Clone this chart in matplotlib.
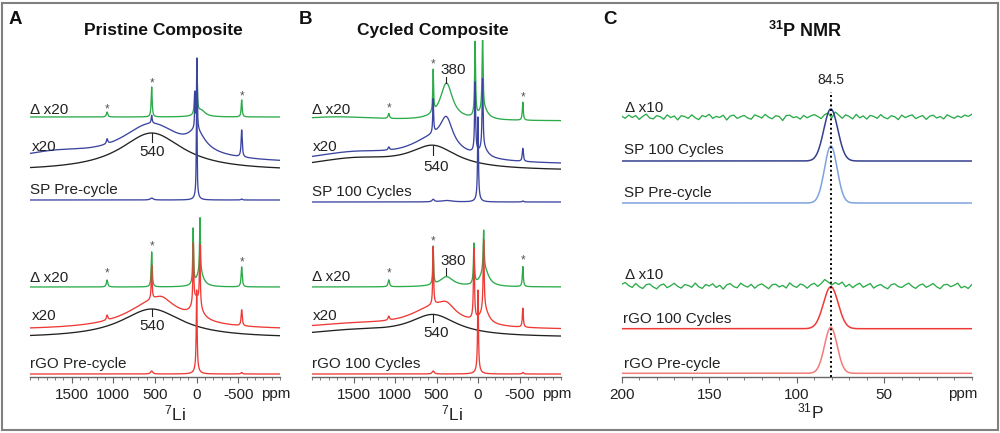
import numpy as np
import matplotlib.pyplot as plt
from matplotlib.patches import Rectangle
from matplotlib.ticker import MultipleLocator

plt.rcParams['font.family'] = ['Liberation Sans', 'DejaVu Sans']
plt.rcParams['mathtext.fontset'] = 'custom'
plt.rcParams['mathtext.rm'] = 'Liberation Sans'
plt.rcParams['mathtext.it'] = 'Liberation Sans:italic'
plt.rcParams['mathtext.bf'] = 'Liberation Sans:bold'

# 7Li spectra: (shift ppm, intensity, half width ppm)
# pristine composite, SP
A_SP_DIFF = [(1075, 5, 10), (540, 30, 7), (25, 20, 7), (-5, 38, 6), (-50, 7, 60), (-540, 17, 7)]
A_SP_X20 = [(1700, 9, 600), (540, 38, 450), (0, 18, 120), (1075, 5, 10), (540, 8, 7),
            (20, 35, 5), (-3, 70, 5), (-540, 27, 8)]
A_SP_FIT = [(540, 38, 460)]
A_SP_PRE = [(540, 2, 20), (0, 4, 30), (0, 100, 5), (-540, 1, 10)]
# pristine composite, rGO
A_RGO_DIFF = [(1075, 7, 10), (540, 35, 7), (42, 55, 6), (-40, 55, 6), (-40, 14, 50), (-540, 20, 8)]
A_RGO_X20 = [(500, 28, 420), (420, 6, 120), (0, 20, 60), (1075, 5, 10), (540, 34, 6),
             (40, 60, 6), (-38, 60, 6), (-540, 16, 8)]
A_RGO_FIT = [(540, 29, 450)]
A_RGO_PRE = [(540, 3, 15), (0, 5, 30), (0, 79, 6), (-540, 1.5, 10)]
# cycled composite, SP
B_SP_DIFF = [(1700, 4, 600), (1075, 5, 10), (540, 42, 6), (380, 37, 90), (35, 74, 7),
             (-55, 74, 7), (-70, 10, 60), (-540, 18, 7)]
B_SP_X20 = [(1500, 11, 700), (540, 22, 350), (1075, 3, 10), (540, 34, 6), (380, 27, 90),
            (35, 70, 7), (-55, 70, 7), (-70, 8, 60), (-540, 13, 8)]
B_SP_FIT = [(1500, 11, 700), (540, 22, 350)]
B_SP_CYC = [(540, 2.5, 15), (380, 1.5, 80), (0, 4, 30), (0, 81, 6), (-540, 1, 10)]
# cycled composite, rGO
B_RGO_DIFF = [(1075, 7, 10), (540, 38, 6), (380, 10, 100), (49, 40, 7), (-68, 40, 7),
              (-80, 17, 60), (-540, 20, 7)]
B_RGO_X20 = [(1500, 5, 700), (540, 20, 350), (380, 10, 120), (1075, 4, 10), (540, 58, 6),
             (49, 70, 7), (-68, 70, 7), (-80, 14, 60), (-540, 19, 7)]
B_RGO_FIT = [(1500, 6, 700), (540, 21, 350)]
B_RGO_CYC = [(540, 3, 15), (0, 5, 30), (0, 79, 6), (-540, 1.5, 10)]

# 31P spectra: (shift ppm, height, sigma ppm)
P_SHIFT = 80.5
P_LABEL = '84.5'
C_SP_CYC = [(P_SHIFT, 52, 4.0)]
C_SP_PRE = [(P_SHIFT, 57, 3.6)]
C_RGO_CYC = [(P_SHIFT, 42, 4.2)]
C_RGO_PRE = [(P_SHIFT, 46, 3.6)]
# difference traces x10, one value every 2 ppm from 200 to 0 ppm
C_SP_DIFF = [0.8, -1.3, 1.9, -0.5, 1.4, -2.4, 0.6, 2.9, -1.0, -1.9,
             1.4, 0.3, -2.2, 2.1, -0.6, 1.0, -2.9, 1.3, 0.5, -1.4,
             2.2, -0.8, -2.6, 1.4, 0.2, 2.7, -1.3, 0.6, -0.5, 1.8,
             -3.0, 1.0, 1.9, -1.4, 0.3, 1.6, -1.0, -2.2, 2.1, 0.8,
             -1.1, 2.6, -0.3, -1.8, 1.3, 0.5, -3.5, 1.4, 1.8, -0.6,
             0.3, -2.1, 1.6, -0.8, 1.1, 2.4, 0.6, -1.6, 2.5, 4.0,
             -1.0, 5.0, 2.0, -1.3, 2.2, 0.5, -1.9, 2.6, -0.8, 1.1,
             -2.1, 1.6, 0.6, -1.4, 2.4, -0.5, -1.8, 1.3, 0.3, -2.6,
             1.9, -0.6, 1.0, 2.1, -1.6, 0.2, 1.4, -2.4, 0.8, 1.8,
             -1.0, 0.5, -1.9, 2.2, 0.3, -1.3, 1.1, -0.5, 1.9, 0.6, 2.6]
C_RGO_DIFF = [1.7, 3.5, 0.4, -1.4, 2.5, -0.7, -2.5, 1.3, 2.1, -1.0,
              -2.8, 0.8, 2.0, -1.7, 0.3, 2.7, -0.4, -2.1, 1.4, 0.6,
              -1.3, 2.9, -0.8, -2.4, 1.5, 0.0, 2.2, -1.5, 0.7, -3.1,
              1.1, 2.4, -0.6, -1.8, 2.8, 0.4, -1.1, 1.7, -2.2, 0.8,
              2.1, -0.3, -2.7, 1.3, 1.8, -1.0, 0.6, -2.0, 3.1, 0.1,
              -1.4, 2.0, 0.7, -2.2, 1.1, 2.7, -0.4, 2.5, 6.5, 4.0,
              1.0, 3.5, 1.5, 3.9, -0.8, 1.8, -1.7, 1.0, 2.8, -1.3,
              0.6, 2.5, -2.1, 0.3, 1.5, -1.1, -2.8, 1.3, 2.2, -0.6,
              -1.5, 1.0, 2.9, -0.4, -2.4, 0.7, 2.0, -1.3, 0.4, 2.5,
              -0.8, -2.7, 1.1, 1.7, -0.7, 0.8, 2.8, -1.8, -0.3, -2.5, 1.3]

LI_TICKS = [1500, 1000, 500, 0, -500]
P_TICKS = [200, 150, 100, 50]

GREEN = '#2bab4a'
BLUE = '#3b45a0'
RED = '#ee3a36'
BLACK = '#222222'
DARK_BLUE = '#34408f'
LIGHT_BLUE = '#7ea3dc'
LIGHT_RED = '#f47c78'


def lor(x, peaks):
    return sum(h / (1 + ((x - c) / w) ** 2) for c, h, w in peaks)


def gau(x, peaks):
    return sum(h * np.exp(-0.5 * ((x - c) / s) ** 2) for c, h, s in peaks)


fig = plt.figure(figsize=(10, 4.33), dpi=100)
W, H = 1000, 433


def px_axes(x0, x1, ybot, ytop):
    return fig.add_axes([x0 / W, (H - ybot) / H, (x1 - x0) / W, (ybot - ytop) / H])


def ftext(x, y, s, **kw):
    kw.setdefault('ha', 'left')
    kw.setdefault('va', 'center')
    fig.text(x / W, 1 - y / H, s, **kw)


def style_axis(ax, xlim, ticks, minor):
    ax.set_xlim(*xlim)
    ax.set_ylim(0, 337)
    ax.set_facecolor('none')
    for s in ['top', 'left', 'right']:
        ax.spines[s].set_visible(False)
    ax.spines['bottom'].set_color('#666666')
    ax.spines['bottom'].set_linewidth(1.0)
    ax.set_yticks([])
    ax.set_xticks(ticks, labels=[str(t) for t in ticks])
    ax.xaxis.set_minor_locator(MultipleLocator(minor))
    ax.tick_params(axis='x', which='major', length=4, width=0.8, color='#666666',
                   labelsize=11, pad=4, labelcolor='#222222')
    ax.tick_params(axis='x', which='minor', length=2.5, width=0.6, color='#666666')


LW = 0.95
x_li = np.linspace(2000, -1000, 6001)
star_kw = dict(ha='center', va='center', fontsize=8.5, color='#555555')
num_kw = dict(ha='center', va='center', fontsize=11, color='#222222')

# ---------------- panel A ----------------
axA = px_axes(30, 280, 377, 40)
style_axis(axA, (2000, -1000), LI_TICKS, 100)
axA.plot(x_li, 260 + lor(x_li, A_SP_DIFF), color=GREEN, lw=LW)
axA.plot(x_li, 206 + lor(x_li, A_SP_FIT), color=BLACK, lw=LW)
axA.plot(x_li, 213 + lor(x_li, A_SP_X20), color=BLUE, lw=LW)
axA.plot(x_li, 177 + lor(x_li, A_SP_PRE), color=BLUE, lw=LW)
axA.plot(x_li, 90 + lor(x_li, A_RGO_DIFF), color=GREEN, lw=LW)
axA.plot(x_li, 39 + lor(x_li, A_RGO_FIT), color=BLACK, lw=LW)
axA.plot(x_li, 47 + lor(x_li, A_RGO_X20), color=RED, lw=LW)
axA.plot(x_li, 3 + lor(x_li, A_RGO_PRE), color=RED, lw=LW)
for xs, ys in [(1075, 268), (540, 294), (-540, 281), (1075, 104), (540, 131), (-540, 115)]:
    axA.text(xs, ys, '*', **star_kw)
axA.plot([540, 540], [244, 235], color=BLACK, lw=0.8)
axA.text(530, 225, '540', **num_kw)
axA.plot([540, 540], [68, 61], color=BLACK, lw=0.8)
axA.text(530, 51, '540', **num_kw)
axA.text(-950, -0.05, 'ppm', transform=axA.get_xaxis_transform(), ha='center', va='center',
         fontsize=11, color='#222222')

# ---------------- panel B ----------------
axB = px_axes(312, 561, 377, 40)
style_axis(axB, (2000, -1000), LI_TICKS, 100)
axB.plot(x_li, 256 + lor(x_li, B_SP_DIFF), color=GREEN, lw=LW)
axB.plot(x_li, 206 + lor(x_li, B_SP_FIT), color=BLACK, lw=LW)
axB.plot(x_li, 212 + lor(x_li, B_SP_X20), color=BLUE, lw=LW)
axB.plot(x_li, 175 + lor(x_li, B_SP_CYC), color=BLUE, lw=LW)
axB.plot(x_li, 90 + lor(x_li, B_RGO_DIFF), color=GREEN, lw=LW)
axB.plot(x_li, 39.5 + lor(x_li, B_RGO_FIT), color=BLACK, lw=LW)
axB.plot(x_li, 47 + lor(x_li, B_RGO_X20), color=RED, lw=LW)
axB.plot(x_li, 3 + lor(x_li, B_RGO_CYC), color=RED, lw=LW)
for xs, ys in [(1075, 269), (540, 313), (-540, 280), (1075, 104), (540, 136), (-540, 117)]:
    axB.text(xs, ys, '*', **star_kw)
axB.plot([380, 380], [294, 300], color=BLACK, lw=0.8)
axB.text(300, 307, '380', **num_kw)
axB.plot([380, 380], [102, 109], color=BLACK, lw=0.8)
axB.text(300, 116, '380', **num_kw)
axB.plot([540, 540], [231, 222], color=BLACK, lw=0.8)
axB.text(510, 210, '540', **num_kw)
axB.plot([540, 540], [63, 55], color=BLACK, lw=0.8)
axB.text(510, 44, '540', **num_kw)
axB.text(-950, -0.05, 'ppm', transform=axB.get_xaxis_transform(), ha='center', va='center',
         fontsize=11, color='#222222')

# ---------------- panel C ----------------
axC = px_axes(621.7, 971.7, 377, 40)
style_axis(axC, (200, 0), P_TICKS, 10)
x_p = np.linspace(200, 0, 1001)
x_noise = np.linspace(200, 0, len(C_SP_DIFF))
axC.plot(x_noise, 260 + np.array(C_SP_DIFF), color=GREEN, lw=LW)
axC.plot(x_p, 216 + gau(x_p, C_SP_CYC), color=DARK_BLUE, lw=1.1)
axC.plot(x_p, 174 + gau(x_p, C_SP_PRE), color=LIGHT_BLUE, lw=1.1)
axC.plot(x_noise, 91 + np.array(C_RGO_DIFF), color=GREEN, lw=LW)
axC.plot(x_p, 48.3 + gau(x_p, C_RGO_CYC), color=RED, lw=1.1)
axC.plot(x_p, 3.7 + gau(x_p, C_RGO_PRE), color=LIGHT_RED, lw=1.1)
axC.plot([P_SHIFT, P_SHIFT], [0, 285], color='black', lw=1.4, ls=(0, (1, 1.4)), zorder=5)
axC.text(P_SHIFT, 297, P_LABEL, ha='center', va='center', fontsize=10, color='#222222')
axC.text(5, -0.05, 'ppm', transform=axC.get_xaxis_transform(), ha='center', va='center',
         fontsize=11, color='#222222')

# ---------------- texts ----------------
title_kw = dict(ha='center', fontsize=12.5, fontweight='bold', color='#111111')
ftext(163, 30, 'Pristine Composite', **title_kw)
ftext(433, 30, 'Cycled Composite', **title_kw)
ftext(805, 31, r'$\mathbf{^{31}}$P NMR', ha='center', fontsize=13, fontweight='bold',
      color='#111111')
letter_kw = dict(ha='center', fontsize=13.5, fontweight='bold', color='#111111')
ftext(15, 20, 'A', **letter_kw)
ftext(306, 20, 'B', **letter_kw)
ftext(610, 19, 'C', **letter_kw)

lab_kw = dict(fontsize=11, color='#222222')
for x, y, s in [(30, 110, 'Δ x20'), (32, 147, 'x20'), (30, 190, 'SP Pre-cycle'),
                (30, 278, 'Δ x20'), (32, 316, 'x20'), (30, 364, 'rGO Pre-cycle'),
                (312, 110, 'Δ x20'), (313, 147, 'x20'), (312, 192, 'SP 100 Cycles'),
                (312, 277, 'Δ x20'), (313, 316, 'x20'), (312, 364, 'rGO 100 Cycles'),
                (625, 108, 'Δ x10'), (624, 150, 'SP 100 Cycles'), (624, 193, 'SP Pre-cycle'),
                (625, 275, 'Δ x10'), (623, 319, 'rGO 100 Cycles'), (624, 364, 'rGO Pre-cycle')]:
    ftext(x, y, s, **lab_kw)

ftext(175, 413, r'$^{7}$Li', ha='center', fontsize=12.5, color='#222222')
ftext(452, 413, r'$^{7}$Li', ha='center', fontsize=12.5, color='#222222')
ftext(810, 411, r'$^{31}$P', ha='center', fontsize=12.5, color='#222222')

fig.add_artist(Rectangle((2 / W, 3 / H), 996 / W, 427 / H, transform=fig.transFigure,
                         fill=False, ec='#808080', lw=1.5))

fig.savefig('out.png', dpi=100)
